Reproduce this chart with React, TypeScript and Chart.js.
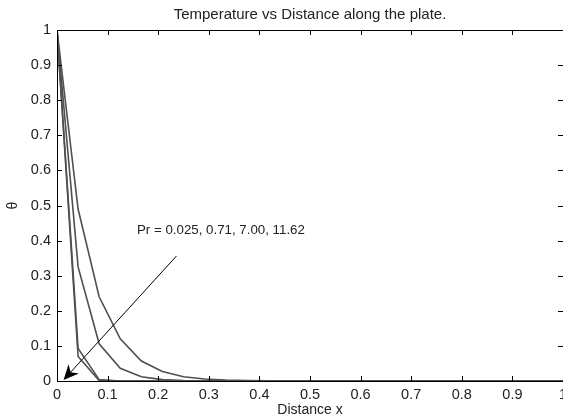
import React, { useEffect, useRef } from "react";
import { Chart, registerables } from "chart.js";

Chart.register(...registerables);

// Distance along the plate (x grid)
const xValues = [
  0, 0.0417, 0.0833, 0.125, 0.1667, 0.2083, 0.25, 0.2917, 0.3333, 0.375,
  0.4167, 0.4583, 0.5, 0.5417, 0.5833, 0.625, 0.6667, 0.7083, 0.75, 0.7917,
  0.8333, 0.875, 0.9167, 0.9583, 1,
];

// Temperature θ for each Prandtl number
const thetaPr0025 = [
  1, 0.49, 0.24, 0.12, 0.057, 0.027, 0.012, 0.0055, 0.0025, 0.0012,
  0.0005, 0.0002, 0.0001, 0, 0, 0, 0, 0, 0, 0, 0, 0, 0, 0, 0,
];
const thetaPr071 = [
  1, 0.325, 0.106, 0.036, 0.012, 0.004, 0.0013, 0.0004, 0.0001, 0,
  0, 0, 0, 0, 0, 0, 0, 0, 0, 0, 0, 0, 0, 0, 0,
];
const thetaPr700 = [
  1, 0.093, 0.004, 0, 0, 0, 0, 0, 0, 0,
  0, 0, 0, 0, 0, 0, 0, 0, 0, 0, 0, 0, 0, 0, 0,
];
const thetaPr1162 = [
  1, 0.07, 0.001, 0, 0, 0, 0, 0, 0, 0,
  0, 0, 0, 0, 0, 0, 0, 0, 0, 0, 0, 0, 0, 0, 0,
];

const seriesLabels = ["Pr = 0.025", "Pr = 0.71", "Pr = 7.00", "Pr = 11.62"];
const xTicks = [0, 0.1, 0.2, 0.3, 0.4, 0.5, 0.6, 0.7, 0.8, 0.9, 1];
const yTicks = [0, 0.1, 0.2, 0.3, 0.4, 0.5, 0.6, 0.7, 0.8, 0.9, 1];

const titleText = "Temperature vs Distance along the plate.";
const xAxisText = "Distance x";
const yAxisText = "θ";
const annotationText = "Pr = 0.025, 0.71, 7.00, 11.62";
const annotationPos = [0.158, 0.418];
const arrowFrom = [0.236, 0.356];
const arrowTo = [0.013, 0.003];

const FONT = '"Liberation Sans", Arial, Helvetica, sans-serif';
const TEXT_COLOR = "#222";
const LINE_COLOR = "#505050";

const fmt = (v: number) => String(Number(Number(v).toFixed(1)));

const decorPlugin = {
  id: "decor",
  afterDraw(chart: any) {
    const { ctx, chartArea, scales } = chart;
    const xs = scales.x;
    const ys = scales.y;
    const { left, top, right, bottom } = chartArea;
    ctx.save();
    // box
    ctx.strokeStyle = "#000";
    ctx.lineWidth = 1;
    ctx.beginPath();
    ctx.moveTo(left + 0.5, bottom + 0.5);
    ctx.lineTo(left + 0.5, top + 0.5);
    ctx.lineTo(right, top + 0.5);
    ctx.moveTo(left + 0.5, bottom + 0.5);
    ctx.lineTo(right, bottom + 0.5);
    ctx.stroke();
    // inward ticks
    const tl = 5;
    ctx.beginPath();
    xTicks.forEach((t) => {
      const px = Math.round(xs.getPixelForValue(t)) + 0.5;
      ctx.moveTo(px, bottom);
      ctx.lineTo(px, bottom - tl);
      ctx.moveTo(px, top);
      ctx.lineTo(px, top + tl);
    });
    yTicks.forEach((t) => {
      const py = Math.round(ys.getPixelForValue(t)) + 0.5;
      ctx.moveTo(left, py);
      ctx.lineTo(left + tl, py);
      ctx.moveTo(right, py);
      ctx.lineTo(right - tl, py);
    });
    ctx.stroke();

    // title
    ctx.fillStyle = TEXT_COLOR;
    ctx.font = `15px ${FONT}`;
    ctx.textAlign = "center";
    ctx.textBaseline = "alphabetic";
    const cx = (left + right) / 2;
    ctx.fillText(titleText, cx, 19);
    // x axis label
    ctx.font = `14px ${FONT}`;
    ctx.fillText(xAxisText, cx, 414);
    // y axis label
    ctx.save();
    ctx.translate(13, (top + bottom) / 2);
    ctx.rotate(-Math.PI / 2);
    ctx.textBaseline = "middle";
    ctx.fillText(yAxisText, 0, 0);
    ctx.restore();

    // annotation text
    ctx.font = `13.3px ${FONT}`;
    ctx.textAlign = "left";
    ctx.textBaseline = "alphabetic";
    ctx.fillText(
      annotationText,
      xs.getPixelForValue(annotationPos[0]),
      ys.getPixelForValue(annotationPos[1])
    );

    // arrow
    const x1 = xs.getPixelForValue(arrowFrom[0]);
    const y1 = ys.getPixelForValue(arrowFrom[1]);
    const x2 = xs.getPixelForValue(arrowTo[0]);
    const y2 = ys.getPixelForValue(arrowTo[1]);
    const ang = Math.atan2(y2 - y1, x2 - x1);
    const hl = 15;
    const hw = 7;
    const ux = Math.cos(ang);
    const uy = Math.sin(ang);
    const bx = x2 - ux * hl;
    const by = y2 - uy * hl;
    const nx = -uy;
    const ny = ux;
    ctx.strokeStyle = "#000";
    ctx.lineWidth = 1;
    ctx.beginPath();
    ctx.moveTo(x1, y1);
    ctx.lineTo(x2 - ux * 6, y2 - uy * 6);
    ctx.stroke();
    ctx.fillStyle = "#000";
    ctx.beginPath();
    ctx.moveTo(x2, y2);
    ctx.lineTo(bx + nx * hw, by + ny * hw);
    ctx.lineTo(x2 - ux * hl * 0.7, y2 - uy * hl * 0.7);
    ctx.lineTo(bx - nx * hw, by - ny * hw);
    ctx.closePath();
    ctx.fill();
    ctx.restore();
  },
};

export default function App() {
  const canvasRef = useRef<HTMLCanvasElement | null>(null);

  useEffect(() => {
    document.body.style.margin = "0";
    const canvas = canvasRef.current;
    if (!canvas) return;
    const series = [thetaPr0025, thetaPr071, thetaPr700, thetaPr1162];
    const chart = new Chart(canvas, {
      type: "line",
      data: {
        datasets: series.map((vals, i) => ({
          label: seriesLabels[i],
          data: vals.map((v, j) => ({ x: xValues[j], y: v })),
          borderColor: LINE_COLOR,
          borderWidth: 1.6,
          pointRadius: 0,
          fill: false,
          tension: 0,
        })),
      },
      options: {
        responsive: false,
        animation: false,
        layout: { padding: { top: 30, right: 0, left: 0, bottom: 0 } },
        plugins: {
          legend: { display: false },
          tooltip: { enabled: false },
          title: { display: false },
        },
        scales: {
          x: {
            type: "linear",
            min: 0,
            max: 1,
            afterBuildTicks: (s: any) => {
              s.ticks = xTicks.map((v) => ({ value: v }));
            },
            ticks: {
              padding: 5,
              maxRotation: 0,
              autoSkip: false,
              color: TEXT_COLOR,
              font: { family: FONT, size: 14.5 },
              callback: (v: any) => fmt(v),
            },
            grid: { display: false, drawTicks: false },
            border: { display: false },
            afterFit: (s: any) => {
              s.height = 37;
              s.paddingLeft = 0;
              s.paddingRight = 0;
            },
          },
          y: {
            type: "linear",
            min: 0,
            max: 1,
            afterBuildTicks: (s: any) => {
              s.ticks = yTicks.map((v) => ({ value: v }));
            },
            ticks: {
              padding: 6,
              autoSkip: false,
              color: TEXT_COLOR,
              font: { family: FONT, size: 14.5 },
              callback: (v: any) => fmt(v),
            },
            grid: { display: false, drawTicks: false },
            border: { display: false },
            afterFit: (s: any) => {
              s.width = 57;
              s.paddingTop = 0;
              s.paddingBottom = 0;
            },
          },
        },
      },
      plugins: [decorPlugin],
    });
    return () => chart.destroy();
  }, []);

  return (
    <div style={{ position: "absolute", left: 0, top: 0, width: 563, height: 418, background: "#fff" }}>
      <canvas ref={canvasRef} width={563} height={418} style={{ display: "block", width: 563, height: 418 }} />
    </div>
  );
}
